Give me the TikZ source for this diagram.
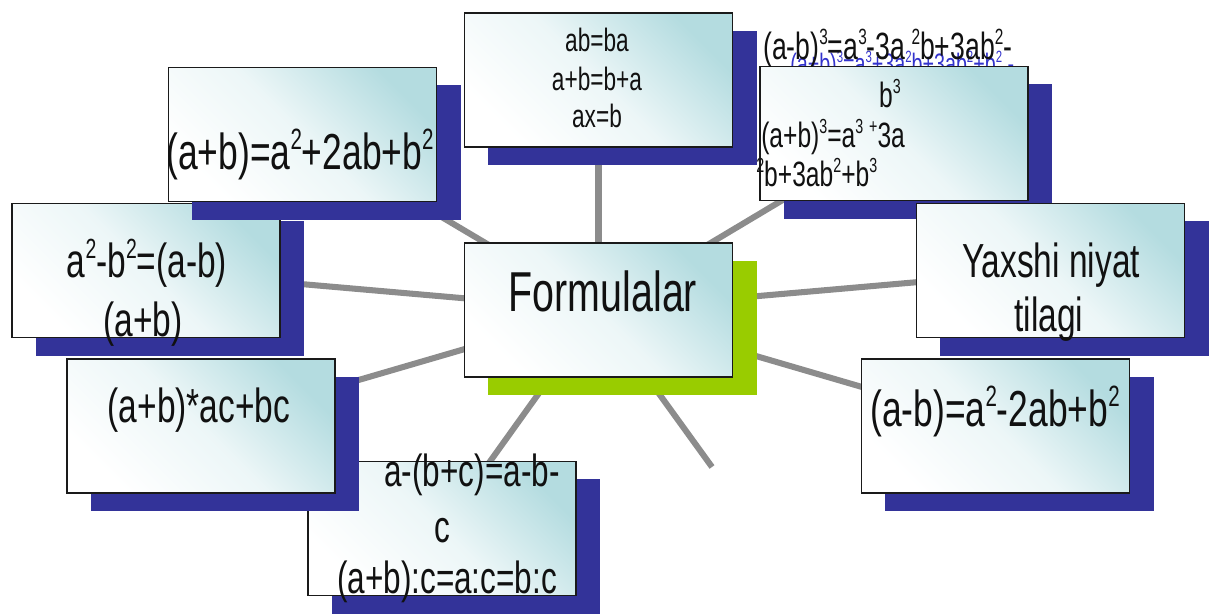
\documentclass[tikz,border=0pt]{standalone}
\usepackage{fontspec}
\usepackage{graphicx}
\setmainfont{Liberation Sans}[FakeStretch=0.7]
\usetikzlibrary{shadows, backgrounds}
\definecolor{ink}{HTML}{111111}
\definecolor{frame}{HTML}{1A1A1A}
\definecolor{tint}{HTML}{B4DCE0}
\definecolor{navy}{HTML}{333399}
\definecolor{lime}{HTML}{99CC00}
\definecolor{ghost}{HTML}{3333CC}
\definecolor{spokegray}{HTML}{8C8C8C}
\tikzset{
  %
  cardbase/.style={
    draw=frame, line width=1pt, inner sep=0pt,
    top color=tint, bottom color=white, middle color=tint!25,
    shading angle=-45, minimum width=6.7cm, minimum height=3.35cm,
  },
  card/.style={cardbase,
    drop shadow={shadow xshift=0.6cm, shadow yshift=-0.45cm, fill=navy, opacity=1}},
  hubcard/.style={cardbase,
    drop shadow={shadow xshift=0.6cm, shadow yshift=-0.45cm, fill=lime, opacity=1}},
  %
  spoke/.style={draw=spokegray, line width=4.3pt},
  %
  eq/.style={inner sep=0pt, anchor=base, text=ink},
  eqxl/.style={eq, font=\fontsize{40}{48}\selectfont},
  eql/.style={eq, font=\fontsize{36}{42}\selectfont},
  eqm/.style={eq, font=\fontsize{34}{40}\selectfont},
  eqs/.style={eq, font=\fontsize{32}{37}\selectfont},
  eqxs/.style={eq, font=\fontsize{25}{30}\selectfont},
  eqtiny/.style={eq, font=\fontsize{23}{28}\selectfont},
}
\newcommand{\sq}[1]{\raisebox{0.4em}{\scalebox{0.58}{#1}}}

\begin{document}
\begin{tikzpicture}[x=0.025cm, y=-0.025cm]
  \useasboundingbox (0,0) rectangle (1210,615);

  % left, middle row
  \node[card] (diffsq) at (146,270.5) {};
  \node[eqm] (diffsq1) at (147,278) {a\sq{2}-b\sq{2}=(a-b)};
  \node[eqm] (diffsq2) at (143,337) {(a+b)};

  % upper left
  \node[card] (sqsum) at (302.5,134.5) {};
  \node[eql] (sqsum1) at (300,170) {(a+b)=a\sq{2}+2ab+b\sq{2}};

  % top
  \node[card] (comm) at (598.5,80) {};
  \node[eqtiny] (comm1) at (597,52) {ab=ba};
  \node[eqtiny] (comm2) at (597,91) {a+b=b+a};
  \node[eqtiny] (comm3) at (597,128) {ax=b};

  % upper right, text runs out of the box
  \node[eq, font=\fontsize{20}{24}\selectfont, text=ghost, anchor=base west]
    (cubeghost) at (790,74) {(a+b)\sq{3}=a\sq{3}+3a\sq{2}b+3ab\sq{2}+b\sq{2} -};
  \node[card] (cube) at (894,133.5) {};
  \node[eq, font=\fontsize{27}{32}\selectfont, anchor=base west] (cube1) at (763,60)
    {(a-b)\sq{3}=a\sq{3}-3a\,\sq{2}b+3ab\sq{2}-};
  \node[eqxs] (cube2) at (890,108) {b\sq{3}};
  \node[eqxs, anchor=base west] (cube3) at (761,148) {(a+b)\sq{3}=a\sq{3}\,\sq{+}3a};
  \node[eqxs, anchor=base west] (cube4) at (756,187) {\sq{2}b+3ab\sq{2}+b\sq{3}};

  % right, middle row
  \node[card] (wish) at (1050.5,270.5) {};
  \node[eqm] (wish1) at (1051,278) {Yaxshi niyat};
  \node[eqm] (wish2) at (1049,332) {tilagi};

  % centre
  \node[hubcard] (hub) at (598.5,310) {};
  \node[eqxl] (hubtxt) at (603,312) {Formulalar};

  % bottom
  \node[card] (bracket) at (442,528.5) {};
  \node[eqs] (bracket1) at (472,487) {a-(b+c)=a-b-};
  \node[eqs] (bracket2) at (442,543) {c};
  \node[eqs] (bracket3) at (447,593) {(a+b):c=a:c=b:c};

  % lower left
  \node[card] (distr) at (201,426) {};
  \node[eqm] (distr1) at (199,423) {(a+b)*ac+bc};

  % lower right
  \node[card] (sqdiff) at (995.5,426) {};
  \node[eql] (sqdiff1) at (995,427) {(a-b)=a\sq{2}-2ab+b\sq{2}};

  \coordinate (loose) at (712,467);

  \begin{scope}[on background layer]
    \foreach \leaf in {diffsq, sqsum, comm, cube, wish, bracket, distr, sqdiff}
      \draw[spoke] (hub.center) -- (\leaf.center);
    \draw[spoke] (hub.center) -- (loose);
  \end{scope}

\end{tikzpicture}
\end{document}
